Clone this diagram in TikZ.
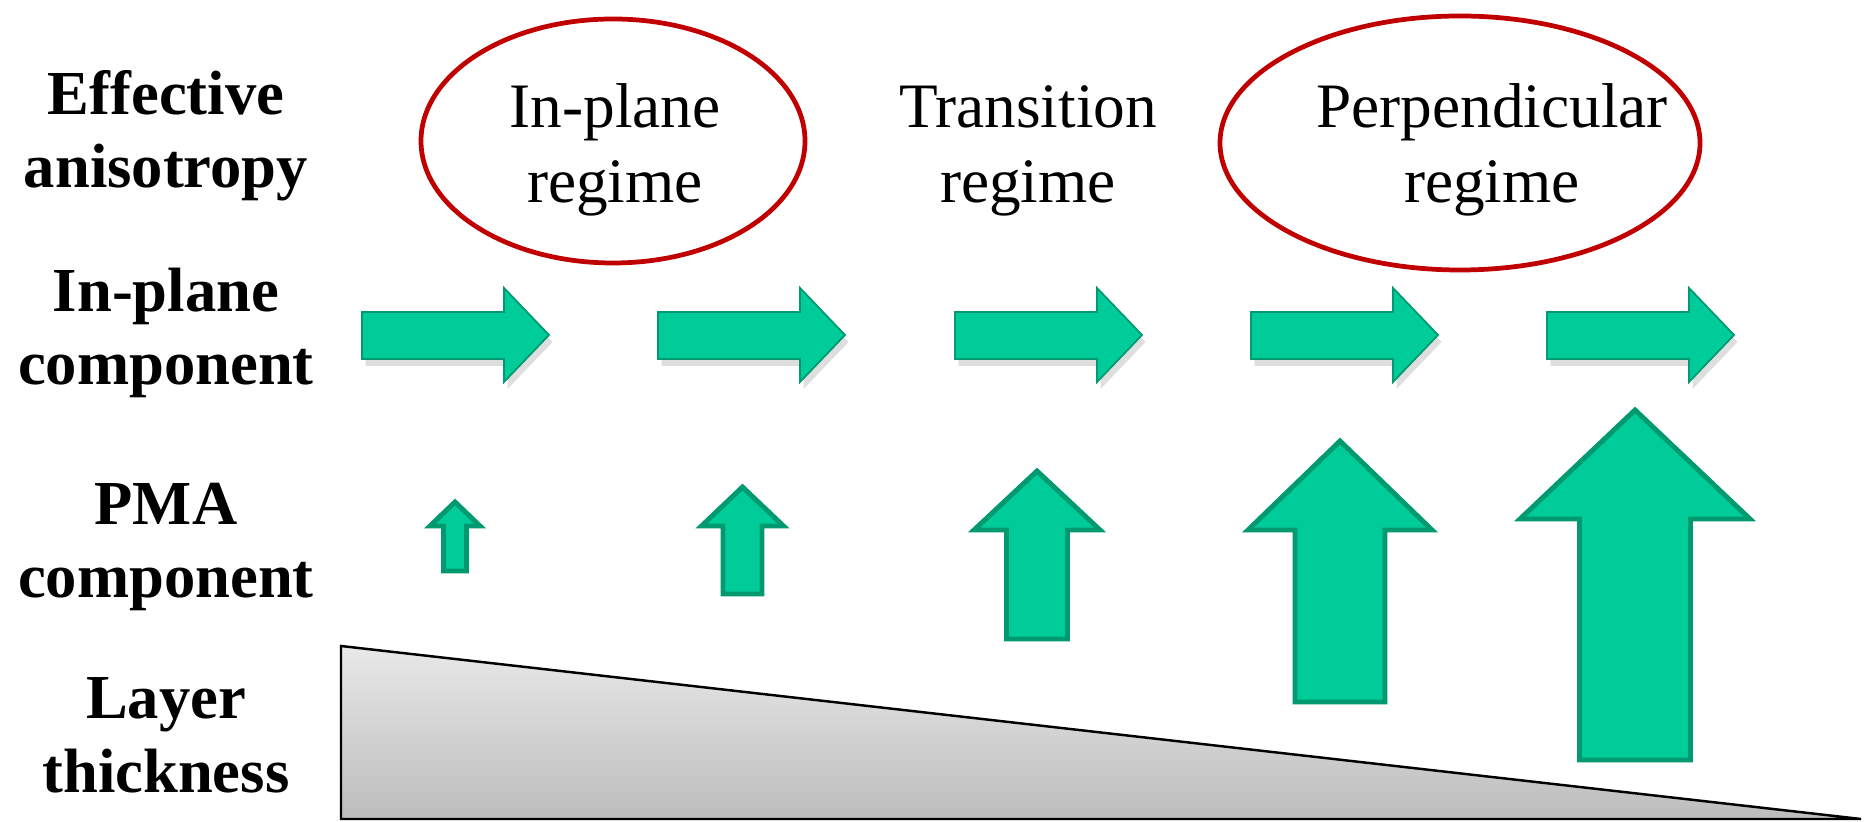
\documentclass[tikz,border=0pt]{standalone}
\usepackage{fontspec}
\setmainfont{Liberation Serif}
\usetikzlibrary{shadows}
\definecolor{arrowfill}{HTML}{00CC99}
\definecolor{arrowline}{HTML}{009970}
\definecolor{regimered}{HTML}{C00000}
\tikzset{
  rowlabel/.style={font=\fontsize{17.8}{20.8}\selectfont\bfseries, align=center, anchor=base, inner sep=0pt},
  regimelabel/.style={font=\fontsize{18}{21.5}\selectfont, align=center, anchor=base, inner sep=0pt},
  regimeoval/.style={draw=regimered, line width=1.35pt},
  rightarrow/.style={fill=arrowfill, draw=arrowline, line width=0.5pt,
     drop shadow={shadow xshift=1pt, shadow yshift=-2pt, fill=black, opacity=0.13}},
  uparrow/.style={fill=arrowfill, draw=arrowline, line width=1.4pt, line join=miter},
  wedge/.style={draw=black, line width=0.7pt, top color=black!9, bottom color=black!26}
}
% right arrow starting at left x
\newcommand\myrightarrow[1]{%
  \path[rightarrow] (#1,312) -- ++(142,0) -- ++(0,-24) -- ++(45,47) -- ++(-45,47) -- ++(0,-23) -- ++(-142,0) -- cycle;}
% up arrow: center x, top y, head base y, bottom y, head half width, shaft half width
\newcommand\myuparrow[6]{%
  \path[uparrow] (#1,#2) -- (#1+#5,#3) -- (#1+#6,#3) -- (#1+#6,#4) -- (#1-#6,#4) -- (#1-#6,#3) -- (#1-#5,#3) -- cycle;}
\begin{document}
\begin{tikzpicture}[x=0.01cm, y=-0.01cm]
\useasboundingbox (0,0) rectangle (1864,822);

% row labels (anchor = baseline of the last line)
\node[rowlabel] (effaniso) at (166,188) {Effective\\anisotropy};
\node[rowlabel] (inplanecomp) at (166,385) {In-plane\\component};
\node[rowlabel] (pmacomp) at (166,598) {PMA\\component};
\node[rowlabel] (layerthick) at (166,792) {Layer\\thickness};

% regimes
\draw[regimeoval] (613,141) ellipse [x radius=192, y radius=122];
\draw[regimeoval] (1460,143) ellipse [x radius=240, y radius=127];
\node[regimelabel] (inplaneregime) at (615,203) {In-plane\\regime};
\node[regimelabel] (transregime) at (1028,203) {Transition\\regime};
\node[regimelabel] (perpregime) at (1492,203) {Perpendicular\\regime};

% in-plane component arrows
\myrightarrow{362}
\myrightarrow{658}
\myrightarrow{955}
\myrightarrow{1251}
\myrightarrow{1547}

% PMA component arrows
\myuparrow{455}{502}{526}{571}{25}{11.5}
\myuparrow{742.5}{487}{526}{594}{41}{19.5}
\myuparrow{1037}{471}{530}{639}{63}{30.5}
\myuparrow{1340}{441}{530}{702}{92}{45}
\myuparrow{1635}{410}{519}{760}{115}{55.5}

% layer thickness wedge
\path[wedge] (341,646) -- (341,819) -- (1861,819) -- cycle;
\end{tikzpicture}
\end{document}
